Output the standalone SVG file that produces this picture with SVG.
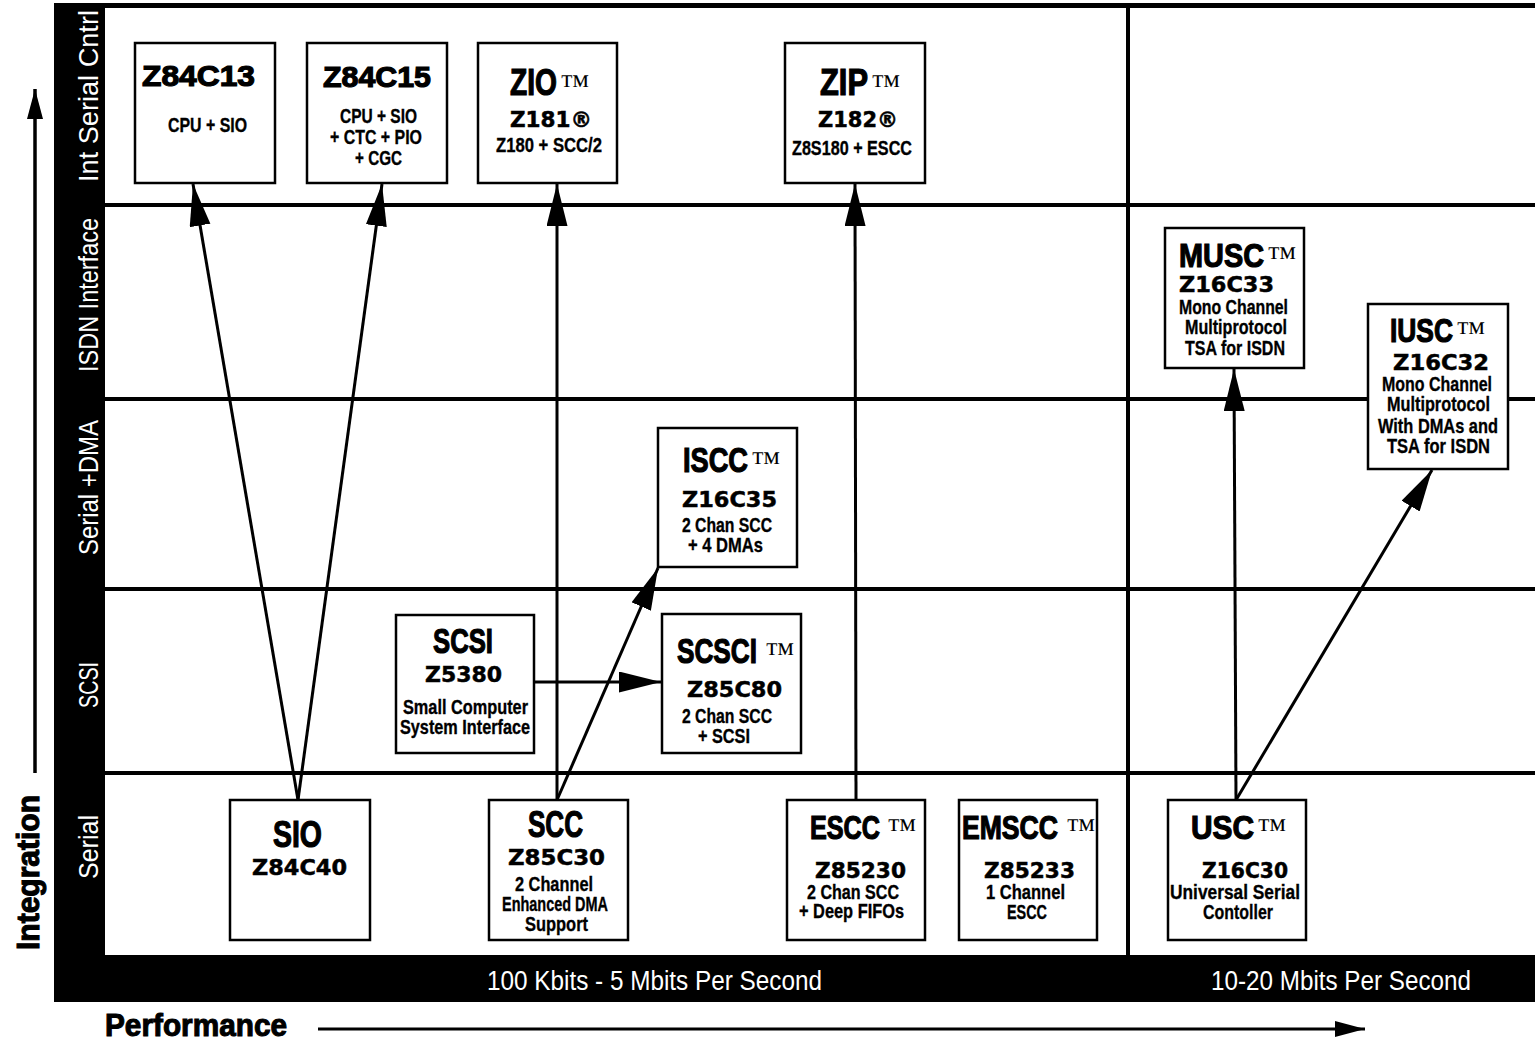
<svg xmlns="http://www.w3.org/2000/svg" width="1535" height="1042" viewBox="0 0 1535 1042">
<style>
.box{fill:#fff;stroke:#000;stroke-width:2.5}
.t{font-family:"Liberation Sans",Arial,sans-serif;font-weight:bold;fill:#000;stroke:#000;stroke-width:1.2}
.tm{font-family:"Liberation Serif","Times New Roman",serif;font-weight:normal;font-size:30px;stroke:none}
.id{font-family:"DejaVu Sans",sans-serif;font-weight:bold;font-size:21px;fill:#000;stroke:#000;stroke-width:0.5}
.s{font-family:"Liberation Sans",Arial,sans-serif;font-weight:bold;font-size:21px;fill:#000;stroke:#000;stroke-width:0.35}
.row{font-family:"Liberation Sans",Arial,sans-serif;font-size:28px;fill:#fff}
.band{font-family:"Liberation Sans",Arial,sans-serif;font-size:27px;fill:#fff}
.axis{font-family:"Liberation Sans",Arial,sans-serif;font-weight:bold;font-size:32px;fill:#000;stroke:#000;stroke-width:1.1}
.grid{stroke:#000;stroke-width:4}
.conn{stroke:#000;stroke-width:3;fill:none;marker-end:url(#ah)}
</style>
<defs>
<marker id="ah" markerUnits="userSpaceOnUse" markerWidth="44" markerHeight="22" refX="42" refY="10.5" orient="auto">
<path d="M0,0 L42,10.5 L0,21 Z" fill="#000"/>
</marker>
<marker id="ahs" markerUnits="userSpaceOnUse" markerWidth="32" markerHeight="18" refX="30" refY="8" orient="auto">
<path d="M0,0 L30,8 L0,16 Z" fill="#000"/>
</marker>
</defs>
<rect width="1535" height="1042" fill="#fff"/>

<g id="frame">
<rect x="54" y="3" width="1481" height="5" fill="#000"/>
<rect x="54" y="3" width="51" height="999" fill="#000"/>
<rect x="54" y="955" width="1481" height="47" fill="#000"/>
<rect x="1126" y="3" width="4" height="952" fill="#000"/>
<line class="grid" x1="105" y1="205" x2="1535" y2="205"/>
<line class="grid" x1="105" y1="399" x2="1535" y2="399"/>
<line class="grid" x1="105" y1="589" x2="1535" y2="589"/>
<line class="grid" x1="105" y1="773" x2="1535" y2="773"/>
</g>

<g id="row-labels">
<text class="row" transform="translate(98,182) rotate(-90)" textLength="172" lengthAdjust="spacingAndGlyphs">Int Serial Cntrl</text>
<text class="row" transform="translate(98,372) rotate(-90)" textLength="154" lengthAdjust="spacingAndGlyphs">ISDN Interface</text>
<text class="row" transform="translate(98,555) rotate(-90)" textLength="135" lengthAdjust="spacingAndGlyphs">Serial +DMA</text>
<text class="row" transform="translate(98,708) rotate(-90)" textLength="46" lengthAdjust="spacingAndGlyphs">SCSI</text>
<text class="row" transform="translate(98,879) rotate(-90)" textLength="64" lengthAdjust="spacingAndGlyphs">Serial</text>
</g>

<g id="speed-labels">
<text class="band" x="487" y="990" textLength="335" lengthAdjust="spacingAndGlyphs">100 Kbits - 5 Mbits Per Second</text>
<text class="band" x="1211" y="990" textLength="260" lengthAdjust="spacingAndGlyphs">10-20 Mbits Per Second</text>
</g>

<g id="axes">
<line x1="35" y1="773" x2="35" y2="89" stroke="#000" stroke-width="3.5" marker-end="url(#ahs)"/>
<text class="axis" transform="translate(39,950) rotate(-90)" textLength="155" lengthAdjust="spacingAndGlyphs">Integration</text>
<line x1="318" y1="1029" x2="1365" y2="1029" stroke="#000" stroke-width="3" marker-end="url(#ahs)"/>
<text class="axis" x="105" y="1036" textLength="182" lengthAdjust="spacingAndGlyphs">Performance</text>
</g>

<g id="z84c13">
<rect class="box" x="135" y="43" width="140" height="140"/>
<text class="t" x="142" y="86" font-size="30" textLength="113" lengthAdjust="spacingAndGlyphs">Z84C13</text>
<text class="s" x="168" y="132" textLength="79" lengthAdjust="spacingAndGlyphs">CPU + SIO</text>
</g>

<g id="z84c15">
<rect class="box" x="307" y="43" width="140" height="140"/>
<text class="t" x="323" y="87" font-size="30" textLength="108" lengthAdjust="spacingAndGlyphs">Z84C15</text>
<text class="s" x="340" y="123" textLength="77" lengthAdjust="spacingAndGlyphs">CPU + SIO</text>
<text class="s" x="330" y="144" textLength="92" lengthAdjust="spacingAndGlyphs">+ CTC + PIO</text>
<text class="s" x="355" y="165" textLength="47" lengthAdjust="spacingAndGlyphs">+ CGC</text>
</g>

<g id="zio">
<rect class="box" x="478" y="43" width="139" height="140"/>
<text class="t" x="510" y="95" font-size="37"><tspan textLength="47" lengthAdjust="spacingAndGlyphs">ZIO</tspan><tspan class="tm" x="560">™</tspan></text>
<text class="id" x="510" y="127" textLength="82" lengthAdjust="spacingAndGlyphs">Z181®</text>
<text class="s" x="496" y="152" textLength="106" lengthAdjust="spacingAndGlyphs">Z180 + SCC/2</text>
</g>

<g id="zip">
<rect class="box" x="785" y="43" width="140" height="140"/>
<text class="t" x="820" y="95" font-size="37"><tspan textLength="48" lengthAdjust="spacingAndGlyphs">ZIP</tspan><tspan class="tm" x="871">™</tspan></text>
<text class="id" x="818" y="127" textLength="80" lengthAdjust="spacingAndGlyphs">Z182®</text>
<text class="s" x="792" y="155" textLength="120" lengthAdjust="spacingAndGlyphs">Z8S180 + ESCC</text>
</g>

<g id="musc">
<rect class="box" x="1165" y="228" width="139" height="140"/>
<text class="t" x="1179" y="267" font-size="34"><tspan textLength="85" lengthAdjust="spacingAndGlyphs">MUSC</tspan><tspan class="tm" x="1267">™</tspan></text>
<text class="id" x="1179" y="292" textLength="95" lengthAdjust="spacingAndGlyphs">Z16C33</text>
<text class="s" x="1179" y="314" textLength="109" lengthAdjust="spacingAndGlyphs">Mono Channel</text>
<text class="s" x="1185" y="334" textLength="102" lengthAdjust="spacingAndGlyphs">Multiprotocol</text>
<text class="s" x="1185" y="355" textLength="100" lengthAdjust="spacingAndGlyphs">TSA for ISDN</text>
</g>

<g id="iusc">
<rect class="box" x="1368" y="304" width="140" height="165"/>
<text class="t" x="1390" y="342" font-size="34"><tspan textLength="63" lengthAdjust="spacingAndGlyphs">IUSC</tspan><tspan class="tm" x="1456">™</tspan></text>
<text class="id" x="1393" y="370" textLength="96" lengthAdjust="spacingAndGlyphs">Z16C32</text>
<text class="s" x="1382" y="391" textLength="110" lengthAdjust="spacingAndGlyphs">Mono Channel</text>
<text class="s" x="1387" y="411" textLength="103" lengthAdjust="spacingAndGlyphs">Multiprotocol</text>
<text class="s" x="1378" y="433" textLength="120" lengthAdjust="spacingAndGlyphs">With DMAs and</text>
<text class="s" x="1387" y="453" textLength="103" lengthAdjust="spacingAndGlyphs">TSA for ISDN</text>
</g>

<g id="iscc">
<rect class="box" x="658" y="428" width="139" height="139"/>
<text class="t" x="683" y="472" font-size="35"><tspan textLength="65" lengthAdjust="spacingAndGlyphs">ISCC</tspan><tspan class="tm" x="751">™</tspan></text>
<text class="id" x="682" y="507" textLength="95" lengthAdjust="spacingAndGlyphs">Z16C35</text>
<text class="s" x="682" y="532" textLength="90" lengthAdjust="spacingAndGlyphs">2 Chan SCC</text>
<text class="s" x="688" y="552" textLength="75" lengthAdjust="spacingAndGlyphs">+ 4 DMAs</text>
</g>

<g id="scsi">
<rect class="box" x="396" y="615" width="138" height="138"/>
<text class="t" x="433" y="653" font-size="35" textLength="60" lengthAdjust="spacingAndGlyphs">SCSI</text>
<text class="id" x="425" y="682" textLength="77" lengthAdjust="spacingAndGlyphs">Z5380</text>
<text class="s" x="403" y="714" textLength="125" lengthAdjust="spacingAndGlyphs">Small Computer</text>
<text class="s" x="400" y="734" textLength="130" lengthAdjust="spacingAndGlyphs">System Interface</text>
</g>

<g id="scsci">
<rect class="box" x="662" y="614" width="139" height="139"/>
<text class="t" x="677" y="663" font-size="35"><tspan textLength="80" lengthAdjust="spacingAndGlyphs">SCSCI</tspan><tspan class="tm" x="765">™</tspan></text>
<text class="id" x="687" y="697" textLength="95" lengthAdjust="spacingAndGlyphs">Z85C80</text>
<text class="s" x="682" y="723" textLength="90" lengthAdjust="spacingAndGlyphs">2 Chan SCC</text>
<text class="s" x="698" y="743" textLength="52" lengthAdjust="spacingAndGlyphs">+ SCSI</text>
</g>

<g id="sio">
<rect class="box" x="230" y="800" width="140" height="140"/>
<text class="t" x="273" y="847" font-size="37" textLength="49" lengthAdjust="spacingAndGlyphs">SIO</text>
<text class="id" x="252" y="875" textLength="95" lengthAdjust="spacingAndGlyphs">Z84C40</text>
</g>

<g id="scc">
<rect class="box" x="489" y="800" width="139" height="140"/>
<text class="t" x="528" y="837" font-size="37" textLength="55" lengthAdjust="spacingAndGlyphs">SCC</text>
<text class="id" x="508" y="865" textLength="97" lengthAdjust="spacingAndGlyphs">Z85C30</text>
<text class="s" x="515" y="891" textLength="78" lengthAdjust="spacingAndGlyphs">2 Channel</text>
<text class="s" x="502" y="911" textLength="106" lengthAdjust="spacingAndGlyphs">Enhanced DMA</text>
<text class="s" x="525" y="931" textLength="63" lengthAdjust="spacingAndGlyphs">Support</text>
</g>

<g id="escc">
<rect class="box" x="787" y="800" width="138" height="140"/>
<text class="t" x="810" y="839" font-size="33"><tspan textLength="70" lengthAdjust="spacingAndGlyphs">ESCC</tspan><tspan class="tm" x="887">™</tspan></text>
<text class="id" x="815" y="878" textLength="91" lengthAdjust="spacingAndGlyphs">Z85230</text>
<text class="s" x="807" y="899" textLength="92" lengthAdjust="spacingAndGlyphs">2 Chan SCC</text>
<text class="s" x="799" y="918" textLength="105" lengthAdjust="spacingAndGlyphs">+ Deep FIFOs</text>
</g>

<g id="emscc">
<rect class="box" x="959" y="800" width="138" height="140"/>
<text class="t" x="962" y="839" font-size="33"><tspan textLength="96" lengthAdjust="spacingAndGlyphs">EMSCC</tspan><tspan class="tm" x="1066">™</tspan></text>
<text class="id" x="984" y="878" textLength="91" lengthAdjust="spacingAndGlyphs">Z85233</text>
<text class="s" x="986" y="899" textLength="79" lengthAdjust="spacingAndGlyphs">1 Channel</text>
<text class="s" x="1007" y="919" textLength="40" lengthAdjust="spacingAndGlyphs">ESCC</text>
</g>

<g id="usc">
<rect class="box" x="1168" y="800" width="138" height="140"/>
<text class="t" x="1191" y="839" font-size="33"><tspan textLength="63" lengthAdjust="spacingAndGlyphs">USC</tspan><tspan class="tm" x="1257">™</tspan></text>
<text class="id" x="1202" y="878" textLength="86" lengthAdjust="spacingAndGlyphs">Z16C30</text>
<text class="s" x="1170" y="899" textLength="130" lengthAdjust="spacingAndGlyphs">Universal Serial</text>
<text class="s" x="1203" y="919" textLength="70" lengthAdjust="spacingAndGlyphs">Contoller</text>
</g>

<g id="connectors">
<line class="conn" x1="298" y1="800" x2="193" y2="184"/>
<line class="conn" x1="298" y1="800" x2="382" y2="184"/>
<line class="conn" x1="557" y1="800" x2="557" y2="184"/>
<line class="conn" x1="557" y1="800" x2="658" y2="568"/>
<line class="conn" x1="534" y1="682" x2="661" y2="682"/>
<line class="conn" x1="856" y1="800" x2="855" y2="184"/>
<line class="conn" x1="1236" y1="800" x2="1234" y2="369"/>
<line class="conn" x1="1236" y1="800" x2="1432" y2="470"/>
</g>
</svg>
